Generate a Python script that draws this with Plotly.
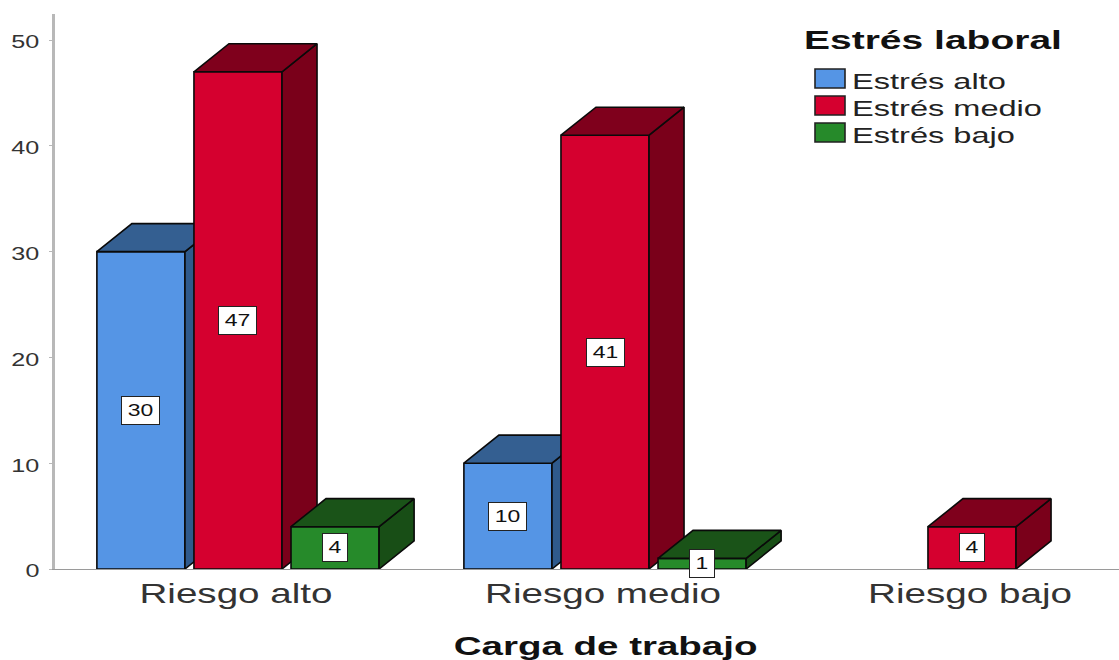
import plotly.graph_objects as go

categories = ["Riesgo alto", "Riesgo medio", "Riesgo bajo"]
series_names = ["Estrés alto", "Estrés medio", "Estrés bajo"]
estres_alto = [30, 10, None]
estres_medio = [47, 41, 4]
estres_bajo = [4, 1, None]
y_ticks = [0, 10, 20, 30, 40, 50]
front_colors = ["#5595e5", "#d5002f", "#268a2a"]
top_colors = ["#345f91", "#7f001c", "#1a5318"]
side_colors = ["#2f5a8c", "#7a001a", "#184e16"]

FONT = "Liberation Sans"
BAR_W = 0.24
STEP = 0.2645
DX = 35 / 367
DY = 2.65
X_RANGE = [-0.4986, 2.4005]
Y_RANGE = [0, 52.46]
LINE = dict(color="#0a0a0a", width=1.6)

fig = go.Figure()
all_series = [estres_alto, estres_medio, estres_bajo]
for i, vals in enumerate(all_series):
    suffix = "" if i == 0 else str(i + 1)
    xa, ya = "x" + suffix, "y" + suffix
    offset = (i - 1) * STEP
    xs = [k + offset for k, v in enumerate(vals) if v is not None]
    ys = [v for v in vals if v is not None]
    fig.add_trace(go.Bar(x=xs, y=ys, width=BAR_W, xaxis=xa, yaxis=ya,
                         marker=dict(color=front_colors[i], line=LINE),
                         name=series_names[i], showlegend=False, hoverinfo="y"))
    tx, ty, sx, sy = [], [], [], []
    for x, v in zip(xs, ys):
        l, r = x - BAR_W / 2, x + BAR_W / 2
        tx += [l, l + DX, r + DX, r, l, None]
        ty += [v, v + DY, v + DY, v, v, None]
        sx += [r, r + DX, r + DX, r, r, None]
        sy += [0, DY, v + DY, v, 0, None]
    fig.add_trace(go.Scatter(x=sx, y=sy, xaxis=xa, yaxis=ya, mode="lines", fill="toself",
                             fillcolor=side_colors[i], line=LINE, showlegend=False, hoverinfo="skip"))
    fig.add_trace(go.Scatter(x=tx, y=ty, xaxis=xa, yaxis=ya, mode="lines", fill="toself",
                             fillcolor=top_colors[i], line=LINE, showlegend=False, hoverinfo="skip"))
    for x, v in zip(xs, ys):
        fig.add_annotation(x=x, y=v / 2, xref="x", yref="y", text=str(v), showarrow=False,
                           font=dict(family=FONT, size=17, color="#111"), bgcolor="white",
                           bordercolor="#222", borderwidth=1, width=35 if v >= 10 else 22,
                           height=25, borderpad=1)

# legend
legend_top = [69, 96, 123]
W = 1119.0
for i, name in enumerate(series_names):
    top = legend_top[i]
    fig.add_shape(type="rect", xref="paper", yref="paper", layer="above",
                  x0=(815 - 55) / (W - 55), x1=(845 - 55) / (W - 55),
                  y0=(569 - (top + 19)) / 555, y1=(569 - top) / 555,
                  fillcolor=front_colors[i], line=dict(color="#222", width=1.6))
    fig.add_annotation(xref="paper", yref="paper", x=(853 - 55) / (W - 55), y=(569 - (top + 12)) / 555,
                       xanchor="left", yanchor="middle", text=name, showarrow=False,
                       font=dict(family=FONT, size=22, color="#222"))
fig.add_annotation(xref="paper", yref="paper", x=(804 - 55) / (W - 55), y=(569 - 40) / 555,
                   xanchor="left", yanchor="middle", text="<b>Estrés laboral</b>", showarrow=False,
                   font=dict(family=FONT, size=25, color="#111"))
fig.add_annotation(xref="x", yref="paper", x=1, y=(569 - 646) / 555, xanchor="center", yanchor="middle",
                   text="<b>Carga de trabajo</b>", showarrow=False,
                   font=dict(family=FONT, size=25, color="#111"))

hidden = dict(range=X_RANGE, visible=False, fixedrange=True)
hidden_y = dict(range=Y_RANGE, visible=False, fixedrange=True)
fig.update_layout(
    width=1119, height=660, margin=dict(l=55, r=0, t=14, b=91),
    paper_bgcolor="white", plot_bgcolor="white", showlegend=False,
    xaxis=dict(range=X_RANGE, tickmode="array", tickvals=[0, 1, 2], ticktext=categories,
               showgrid=False, zeroline=False, showline=True, linecolor="#9a9a9a", linewidth=1,
               ticks="", tickfont=dict(family=FONT, size=27, color="#333"), fixedrange=True),
    yaxis=dict(range=Y_RANGE, tickmode="array", tickvals=y_ticks, showgrid=False, zeroline=False,
               showline=True, linecolor="#b8b8b8", linewidth=3, ticks="outside", ticklen=3,
               tickcolor="#b8b8b8", tickwidth=1,
               tickfont=dict(family=FONT, size=18, color="#333"), fixedrange=True),
    xaxis2=dict(overlaying="x", **hidden), yaxis2=dict(overlaying="y", **hidden_y),
    xaxis3=dict(overlaying="x", **hidden), yaxis3=dict(overlaying="y", **hidden_y),
)

# The reference's text is horizontally stretched; apply the same stretch to the real SVG text.
stretch_js = """
document.body.style.margin='0';
function st(t, s, mode, dx, dy){
  var b = t.getBBox();
  var o = mode==='left' ? b.x : (mode==='right' ? b.x+b.width : b.x+b.width/2);
  var e = t.getAttribute('transform')||'';
  t.setAttribute('transform', e+' translate('+(o+dx)+','+dy+') scale('+s+',1) translate('+(-o)+',0)');
}
document.querySelectorAll('.xtick text').forEach(function(t){st(t,1.43,'center',-2,1);});
document.querySelectorAll('.ytick text').forEach(function(t){st(t,1.4,'right',-6,2);});
document.querySelectorAll('.annotation-text').forEach(function(t){
  var c=t.textContent;
  if(c==='Estrés laboral'){st(t,1.56,'left',-2,0);}
  else if(c.indexOf('Estrés')===0){st(t,1.48,'left',-3,0);}
  else if(c==='Carga de trabajo'){st(t,1.54,'center',0,0);}
  else {st(t,1.35,'center',0,0);}
});
"""
fig.write_html("out.html", post_script=stretch_js, config={"displayModeBar": False})
